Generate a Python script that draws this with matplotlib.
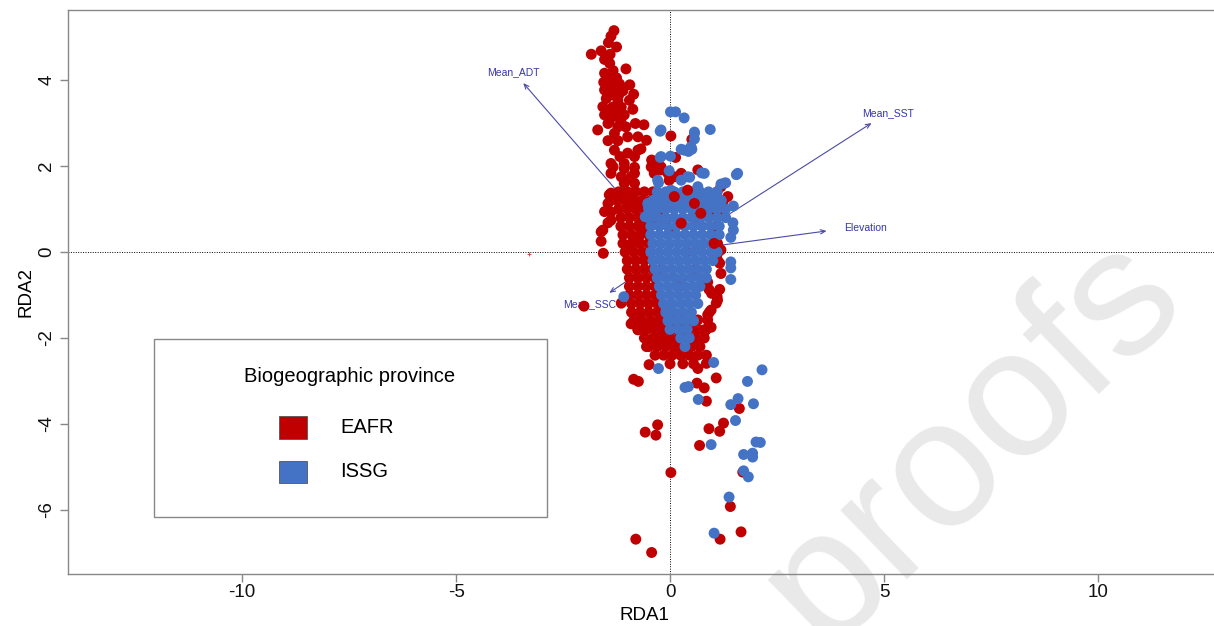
import numpy as np
import matplotlib.pyplot as plt
from matplotlib.patches import Rectangle

plt.rcParams['font.family'] = ['Liberation Sans', 'DejaVu Sans']
plt.rcParams['axes.unicode_minus'] = False

# site scores (RDA1, RDA2)
eafr_tail = [
    (-1.31, 5.15), (-1.38, 5.02), (-1.44, 4.87), (-1.25, 4.77), (-1.61, 4.68), (-1.84, 4.60),
    (-1.40, 4.60), (-1.53, 4.48), (-1.41, 4.39), (-1.03, 4.26), (-1.33, 4.22), (-1.53, 4.16),
    (-1.45, 4.05), (-1.25, 4.05), (-1.55, 3.95), (-1.38, 3.92), (-1.18, 3.91), (-0.94, 3.89),
    (-1.53, 3.77), (-1.30, 3.77), (-1.10, 3.75), (-0.85, 3.67), (-1.40, 3.65), (-1.20, 3.65),
    (-1.49, 3.57), (-1.22, 3.53), (-0.95, 3.53), (-1.57, 3.38), (-1.34, 3.37), (-1.14, 3.37),
    (-0.87, 3.32), (-1.45, 3.30), (-1.25, 3.25), (-1.53, 3.19), (-1.30, 3.16), (-1.07, 3.19),
    (-1.42, 3.05), (-1.15, 3.05), (-1.45, 2.99), (-0.81, 2.99), (-0.61, 2.96), (-1.22, 2.91),
    (-1.03, 2.91), (-1.69, 2.84), (-1.30, 2.76), (0.02, 2.70), (-0.99, 2.68), (-0.75, 2.68),
    (0.51, 2.62), (-1.45, 2.59), (-1.22, 2.59), (-0.55, 2.60), (-0.68, 2.40), (-1.30, 2.37),
    (-0.75, 2.37), (-0.99, 2.30), (-1.17, 2.22), (-0.83, 2.22), (0.13, 2.20), (-0.43, 2.14),
    (-1.38, 2.06), (-1.07, 2.06), (-0.37, 2.03), (-0.44, 1.98), (-0.21, 1.98), (-1.33, 1.98),
    (-0.83, 1.97), (-1.07, 1.94), (-0.21, 1.91), (0.65, 1.91), (-1.38, 1.83), (-0.83, 1.83),
    (-0.37, 1.83), (-0.05, 1.83), (0.26, 1.83), (0.23, 1.77), (-1.14, 1.75), (-0.91, 1.75),
    (0.10, 1.75), (-0.02, 1.67), (-1.07, 1.60), (-0.83, 1.60),
]

eafr_body = [
    (-1.42, 1.33), (-1.38, 1.37), (-1.14, 1.29), (-0.91, 1.37), (-1.45, 1.13), (-0.99, 1.05),
    (-0.75, 1.13), (-1.53, 0.94), (-1.38, 0.93), (-1.38, 0.74), (-1.45, 0.68), (-1.57, 0.51),
    (-1.61, 0.47), (-1.61, 0.25), (-1.56, -0.03), (-0.52, 0.51), (-0.75, 0.28), (-0.91, 0.12),
    (-0.60, 0.74), (-0.37, 0.67),
    (-1.2, 1.4), (-1.0, 1.4), (-0.8, 1.4), (-0.6, 1.4), (-0.4, 1.4),
    (-1.25, 1.2), (-1.05, 1.2), (-0.85, 1.2), (-0.65, 1.2), (-0.45, 1.2),
    (-1.2, 1.0), (-1.0, 1.0), (-0.8, 1.0), (-0.6, 1.0),
    (-1.15, 0.8), (-0.95, 0.8), (-0.75, 0.8), (-0.55, 0.8),
    (-1.15, 0.6), (-0.95, 0.6), (-0.75, 0.6), (-0.55, 0.6),
    (-1.1, 0.4), (-0.9, 0.4), (-0.7, 0.4), (-0.5, 0.4),
    (-1.1, 0.2), (-0.9, 0.2), (-0.7, 0.2), (-0.5, 0.2),
    (-1.05, 0.0), (-0.85, 0.0), (-0.65, 0.0), (-0.45, 0.0),
    (-1.0, -0.2), (-0.8, -0.2), (-0.6, -0.2), (-0.4, -0.2),
    (-1.0, -0.4), (-0.8, -0.4), (-0.6, -0.4), (-0.4, -0.4),
    (-0.95, -0.6), (-0.75, -0.6), (-0.55, -0.6), (-0.35, -0.6),
    (-0.95, -0.8), (-0.75, -0.8), (-0.55, -0.8), (-0.35, -0.8),
    (-0.95, -1.0), (-0.75, -1.0), (-0.55, -1.0), (-0.35, -1.0),
    (-0.9, -1.2), (-0.7, -1.2), (-0.5, -1.2), (-0.3, -1.2),
    (-0.9, -1.4), (-0.7, -1.4), (-0.5, -1.4), (-0.3, -1.4), (-0.1, -1.4),
    (-0.85, -1.6), (-0.65, -1.6), (-0.45, -1.6), (-0.25, -1.6), (-0.05, -1.6), (0.15, -1.6),
    (0.35, -1.6), (0.55, -1.6),
    (-0.75, -1.8), (-0.55, -1.8), (-0.35, -1.8), (-0.15, -1.8), (0.05, -1.8), (0.25, -1.8),
    (0.45, -1.8), (0.65, -1.8), (0.85, -1.8),
    (-0.6, -2.0), (-0.4, -2.0), (-0.2, -2.0), (0.0, -2.0), (0.2, -2.0), (0.4, -2.0), (0.6, -2.0),
    (0.8, -2.0),
    (-0.5, -2.2), (-0.3, -2.2), (-0.1, -2.2), (0.1, -2.2), (0.3, -2.2), (0.5, -2.2), (0.7, -2.2),
    (-0.35, -2.4), (-0.15, -2.4), (0.05, -2.4), (0.25, -2.4), (0.45, -2.4), (0.65, -2.4),
    (0.85, -2.4),
    (0.0, -2.6), (0.3, -2.6), (0.55, -2.6),
    (-0.91, -1.67), (-0.68, -1.57), (-0.75, -1.81), (-0.52, -1.75), (-0.55, -2.20), (-0.37, -2.05),
    (-0.21, -1.97), (0.02, -2.12), (0.18, -2.28), (0.33, -2.05), (0.41, -2.28),
    (1.11, 0.20), (1.19, 0.05), (1.11, -0.03), (1.16, -0.26), (1.19, -0.50), (1.11, -0.19),
    (1.16, -0.87), (1.11, -1.12), (0.96, -1.35), (0.88, -1.58), (0.96, -1.75), (0.80, -1.81),
    (0.65, -1.58), (0.88, -0.70), (0.91, -0.87), (0.97, -0.96), (1.10, -1.04), (1.08, -1.19),
    (0.82, -1.83), (0.91, -1.74), (0.92, -1.40), (0.88, -1.46), (1.0, 0.4), (1.1, 0.6),
    (1.0, 0.9), (1.2, 0.9), (1.25, 1.2), (1.1, 1.4), (1.19, 1.52), (1.35, 1.29),
    (0.0, 0.5), (0.4, 0.0), (0.2, -0.8), (0.6, 0.8), (0.4, 1.2), (0.0, 1.2), (-0.2, 0.8),
    (-0.2, -0.4), (0.6, -0.4),
]

eafr_outliers = [
    (-2.01, -1.26), (-1.14, -1.19), (-0.49, -2.62), (-0.85, -2.96), (-0.74, -3.01), (-0.29, -4.02),
    (-0.58, -4.19), (-0.33, -4.26), (0.02, -5.13), (-0.80, -6.68), (-0.43, -6.99), (1.17, -6.68),
    (1.66, -6.51), (1.41, -5.92), (1.70, -5.12), (0.91, -4.11), (1.16, -4.17), (1.25, -3.98),
    (0.69, -4.50), (1.62, -3.64), (0.85, -3.47), (0.63, -3.05), (0.80, -3.16), (1.08, -2.93),
    (0.65, -2.71), (0.85, -2.59),
]

issg_upper = [
    (0.01, 3.26), (0.13, 3.26), (0.33, 3.12), (-0.23, 2.81), (0.57, 2.79), (0.57, 2.63),
    (0.94, 2.85), (0.26, 2.39), (0.43, 2.34), (0.51, 2.39), (-0.23, 2.20), (0.01, 2.23),
    (-0.02, 1.89), (0.74, 1.84), (1.55, 1.80), (-0.27, 1.61), (0.46, 1.74), (1.30, 1.61),
    (1.19, 1.58), (1.48, 1.07), (1.47, 0.68), (1.48, 0.51), (1.42, 0.34), (1.42, -0.23),
    (1.42, -0.37), (-0.51, 1.09), (-0.58, 0.82), (-0.29, 1.67), (0.02, 1.44), (0.26, 1.67),
    (0.41, 1.75), (0.65, 1.52), (0.80, 1.83), (1.27, 1.60), (1.58, 1.83), (-0.52, 1.13),
    (-0.37, 0.90), (-0.21, 1.29), (0.02, 1.05), (-0.21, 2.84), (0.57, 2.76), (0.49, 2.45),
    (0.33, 2.37), (-0.21, 2.22),
]

issg_core = [
    (-0.3, 1.4), (-0.1, 1.4), (0.1, 1.4), (0.3, 1.4), (0.5, 1.4), (0.7, 1.4), (0.9, 1.4), (1.1, 1.4),
    (-0.4, 1.2), (-0.2, 1.2), (0.0, 1.2), (0.2, 1.2), (0.4, 1.2), (0.6, 1.2), (0.8, 1.2), (1.0, 1.2),
    (1.2, 1.2),
    (-0.5, 1.0), (-0.3, 1.0), (-0.1, 1.0), (0.1, 1.0), (0.3, 1.0), (0.5, 1.0), (0.7, 1.0), (0.9, 1.0),
    (1.1, 1.0), (1.3, 1.0),
    (-0.5, 0.8), (-0.3, 0.8), (-0.1, 0.8), (0.1, 0.8), (0.3, 0.8), (0.5, 0.8), (0.7, 0.8), (0.9, 0.8),
    (1.1, 0.8), (1.3, 0.8),
    (-0.45, 0.6), (-0.25, 0.6), (-0.05, 0.6), (0.15, 0.6), (0.35, 0.6), (0.55, 0.6), (0.75, 0.6),
    (0.95, 0.6), (1.15, 0.6),
    (-0.45, 0.4), (-0.25, 0.4), (-0.05, 0.4), (0.15, 0.4), (0.35, 0.4), (0.55, 0.4), (0.75, 0.4),
    (0.95, 0.4), (1.15, 0.4),
    (-0.4, 0.2), (-0.2, 0.2), (0.0, 0.2), (0.2, 0.2), (0.4, 0.2), (0.6, 0.2), (0.8, 0.2), (1.0, 0.2),
    (-0.45, 0.0), (-0.25, 0.0), (-0.05, 0.0), (0.15, 0.0), (0.35, 0.0), (0.55, 0.0), (0.75, 0.0),
    (0.95, 0.0), (1.1, 0.0),
    (-0.4, -0.2), (-0.2, -0.2), (0.0, -0.2), (0.2, -0.2), (0.4, -0.2), (0.6, -0.2), (0.8, -0.2),
    (1.0, -0.2),
    (-0.35, -0.4), (-0.15, -0.4), (0.05, -0.4), (0.25, -0.4), (0.45, -0.4), (0.65, -0.4), (0.85, -0.4),
    (-0.3, -0.6), (-0.1, -0.6), (0.1, -0.6), (0.3, -0.6), (0.5, -0.6), (0.7, -0.6), (0.85, -0.6),
    (-0.25, -0.8), (-0.05, -0.8), (0.15, -0.8), (0.35, -0.8), (0.55, -0.8), (0.7, -0.8),
    (-0.2, -1.0), (0.0, -1.0), (0.2, -1.0), (0.4, -1.0), (0.6, -1.0),
    (-0.15, -1.2), (0.05, -1.2), (0.25, -1.2), (0.45, -1.2), (0.65, -1.2),
    (-0.1, -1.4), (0.1, -1.4), (0.3, -1.4), (0.5, -1.4),
    (-0.05, -1.6), (0.15, -1.6), (0.35, -1.6), (0.55, -1.6),
    (0.0, -1.8), (0.2, -1.8), (0.4, -1.8),
    (0.25, -2.0), (0.45, -2.0), (0.35, -2.2),
]

issg_outliers = [
    (-1.08, -1.04), (-0.27, -2.71), (0.35, -3.15), (0.43, -3.13), (0.66, -3.43), (1.02, -2.57),
    (1.42, -3.55), (1.59, -3.41), (1.95, -3.53), (1.81, -3.01), (2.15, -2.74), (1.53, -3.92),
    (0.96, -4.48), (2.01, -4.42), (2.11, -4.43), (1.72, -4.71), (1.93, -4.68), (1.93, -4.77),
    (1.72, -5.09), (1.83, -5.23), (1.38, -5.70), (1.03, -6.54), (1.42, -0.64),
]

# a few EAFR sites plotted after the ISSG ones
eafr_front = [(0.57, 1.13), (0.72, 0.90), (0.10, 1.29), (0.41, 1.44), (1.03, 0.20), (0.26, 0.67)]

# biplot arrows for the environmental variables
env_names = ['Mean_ADT', 'Mean_SST', 'Elevation', 'Mean_SSC']
env_x = [-3.43, 4.71, 3.66, -1.42]
env_y = [3.93, 3.00, 0.49, -0.95]
env_lab_x = [-3.67, 5.09, 4.56, -1.87]
env_lab_y = [4.19, 3.23, 0.56, -1.21]

# species score (tiny red cross)
spec_x = [-3.29]
spec_y = [-0.05]

red = '#C00000'
blue = '#4472C4'
arrow_col = '#4A4AA6'
text_col = '#3535B0'

eafr = np.array(eafr_tail + eafr_body + eafr_outliers)
issg = np.array(issg_upper + issg_core + issg_outliers)
front = np.array(eafr_front)

fig = plt.figure(figsize=(12.14, 6.26), dpi=100)
fig.patch.set_facecolor('white')
ax = fig.add_axes([68 / 1214, 52 / 626, 1148 / 1214, 564 / 626])
ax.set_facecolor('none')

ax.axhline(0, color='black', lw=0.7, ls=(0, (1, 1.5)), zorder=1)
ax.axvline(0, color='black', lw=0.7, ls=(0, (1, 1.5)), zorder=1)

for name, x, y, lx, ly in zip(env_names, env_x, env_y, env_lab_x, env_lab_y):
    ax.annotate('', xy=(x, y), xytext=(0, 0),
                arrowprops=dict(arrowstyle='->,head_length=0.35,head_width=0.15',
                                color=arrow_col, lw=0.8, shrinkA=0, shrinkB=0), zorder=2)
    ax.text(lx, ly, name, color=text_col, fontsize=7.5, ha='center', va='center', zorder=2)

ax.plot(spec_x, spec_y, '+', color='#E03030', ms=3, mew=0.6, zorder=2)

ax.scatter(eafr[:, 0], eafr[:, 1], s=62, color=red, edgecolors='none', zorder=3)
ax.scatter(issg[:, 0], issg[:, 1], s=62, color=blue, edgecolors='none', zorder=3)
ax.scatter(front[:, 0], front[:, 1], s=62, color=red, edgecolors='none', zorder=3)

ax.set_xlim(-14.07, 12.76)
ax.set_ylim(-7.49, 5.63)
ax.set_xticks([-10, -5, 0, 5, 10])
ax.set_yticks([-6, -4, -2, 0, 2, 4])
for s in ax.spines.values():
    s.set_color('#888888')
    s.set_linewidth(1)
ax.tick_params(axis='both', direction='out', length=6, width=1, color='#888888',
               labelsize=13.5, labelcolor='#111111')
ax.tick_params(axis='x', pad=1.5)
ax.tick_params(axis='y', pad=3)
plt.setp(ax.get_yticklabels(), rotation=90, va='center')

ax.set_xlabel('RDA1', fontsize=13.5)
ax.set_ylabel('RDA2', fontsize=13.5)
ax.xaxis.set_label_coords(0.502, -0.059)
ax.yaxis.set_label_coords(-0.0296, 0.5)

# legend box drawn by hand, R style
ax.add_patch(Rectangle((0.0749, 0.1011), 0.3423, 0.3156, transform=ax.transAxes,
                       facecolor='white', edgecolor='#888888', lw=1, zorder=4))
ax.text(0.2456, 0.3493, 'Biogeographic province', transform=ax.transAxes,
        fontsize=14.5, ha='center', va='center', zorder=5)
for lab, col, yc in [('EAFR', red, 0.2599), ('ISSG', blue, 0.1809)]:
    ax.add_patch(Rectangle((0.1841, yc - 0.0201), 0.0239, 0.0402, transform=ax.transAxes,
                           facecolor=col, edgecolor='#555555', lw=0.6, zorder=5))
    ax.text(0.2369, yc, lab, transform=ax.transAxes, fontsize=14.5,
            ha='left', va='center', zorder=5)

# watermark
fig.text(0.8275, 0.243, 'proofs', rotation=44, rotation_mode='anchor', fontsize=131,
         color='#E9E9E9', ha='center', va='baseline', zorder=-1)

fig.savefig('out.png', dpi=100)
